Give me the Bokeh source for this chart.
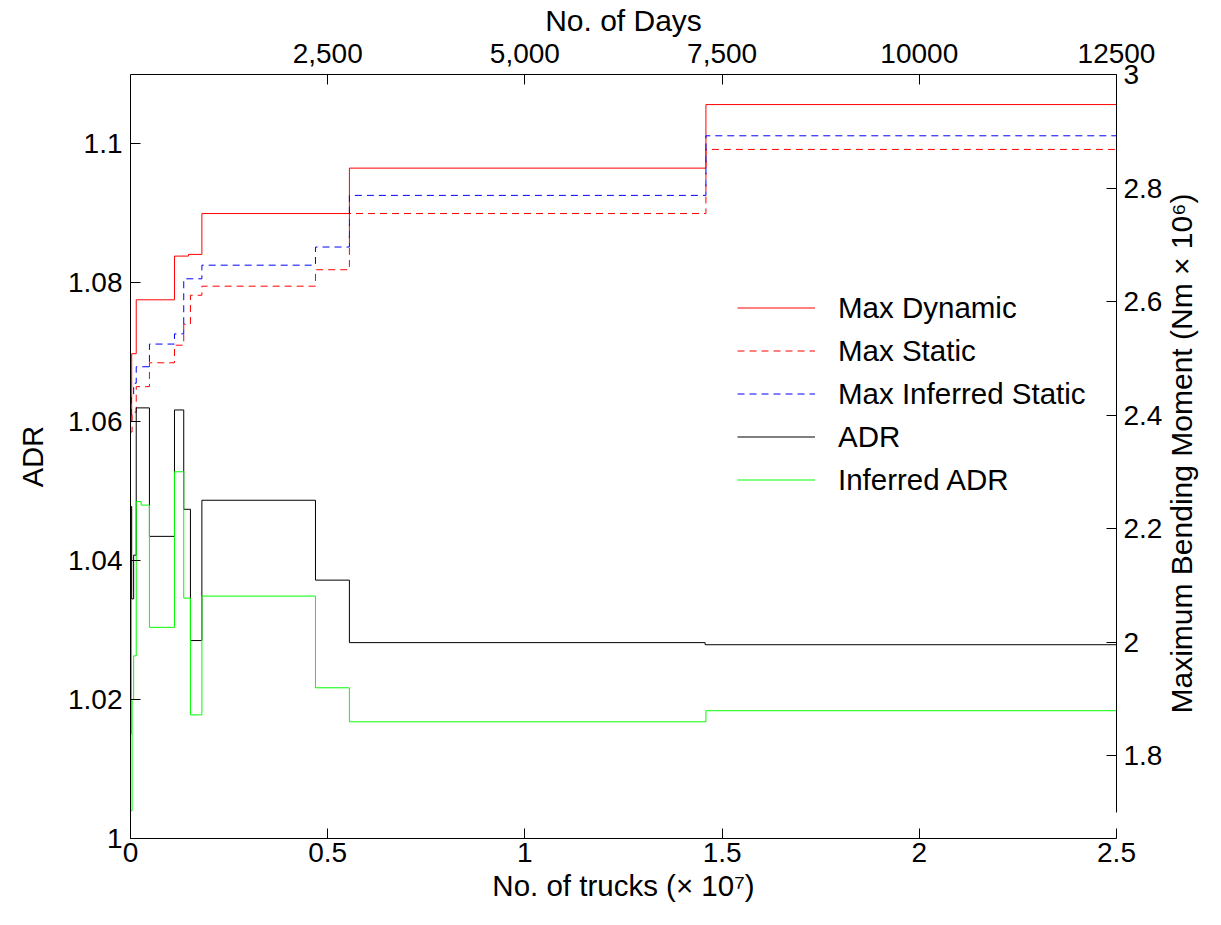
import math
from bokeh.plotting import figure
from bokeh.models import (Range1d, LinearAxis, FixedTicker, Legend, LegendItem,
                          NumeralTickFormatter)
from bokeh.embed import file_html
from bokeh.resources import INLINE

# ---------------- data ----------------
# x in units of 1e7 trucks; step values hold from x[i] to x[i+1]
dyn_x = [0, 0.003, 0.0145, 0.1115, 0.147, 0.181, 0.555, 1.459, 2.5]
dyn_v = [2.39, 2.508, 2.603, 2.680, 2.683, 2.755, 2.835, 2.947, 2.947]          # Max Dynamic

st_x = [0, 0.004, 0.0145, 0.048, 0.1115, 0.135, 0.152, 0.181, 0.469, 0.555, 1.459, 2.5]
st_v = [2.37, 2.405, 2.450, 2.492, 2.523, 2.560, 2.611, 2.627, 2.656, 2.755, 2.868, 2.868]  # Max Static

ist_x = [0, 0.002, 0.008, 0.0145, 0.048, 0.1115, 0.135, 0.181, 0.469, 0.555, 1.459, 2.5]
ist_v = [2.40, 2.432, 2.456, 2.485, 2.525, 2.543, 2.640, 2.664, 2.696, 2.787, 2.892, 2.892]  # Max Inferred Static

adr_x = [0, 0.001, 0.003, 0.008, 0.0145, 0.048, 0.1115, 0.135, 0.152, 0.181, 0.469, 0.555, 1.457, 2.5]
adr_v = [1.015, 1.0478, 1.0345, 1.0408, 1.062, 1.0435, 1.0617, 1.0474, 1.0285, 1.0487, 1.0372, 1.0282, 1.0279, 1.0279]

iadr_x = [0, 0.004, 0.008, 0.0145, 0.027, 0.048, 0.1115, 0.135, 0.152, 0.181, 0.469, 0.555, 1.459, 2.5]
iadr_v = [1.004, 1.020, 1.0263, 1.0485, 1.048, 1.0304, 1.0528, 1.0346, 1.0178, 1.0349, 1.0217, 1.0168, 1.0184, 1.0184]

bottom_ticks = [0, 0.5, 1, 1.5, 2, 2.5]
left_ticks = [1, 1.02, 1.04, 1.06, 1.08, 1.1]
right_ticks = [1.8, 2, 2.2, 2.4, 2.6, 2.8, 3]
top_ticks = [2500, 5000, 7500, 10000, 12500]
top_labels = ["2,500", "5,000", "7,500", "10000", "12500"]

FONT = "Liberation Sans"
TICK_FS = "28px"

p = figure(frame_width=986, frame_height=764,
           min_border_left=130, min_border_right=100, min_border_top=72, min_border_bottom=82,
           x_range=Range1d(0, 2.5), y_range=Range1d(1, 1.11),
           output_backend="svg", toolbar_location=None,
           background_fill_color="white", border_fill_color="white")
p.outline_line_color = None
p.grid.visible = False
p.extra_y_ranges = {"bm": Range1d(3 - 764 / 567.5, 3)}
p.extra_x_ranges = {"days": Range1d(0, 12500)}


def style_axis(ax, label_fs):
    ax.axis_line_color = "black"
    ax.axis_line_width = 1
    ax.major_tick_line_color = "black"
    ax.major_tick_in = 10
    ax.major_tick_out = 0
    ax.minor_tick_line_color = None
    ax.major_label_text_font = FONT
    ax.major_label_text_font_size = TICK_FS
    ax.major_label_text_color = "black"
    ax.axis_label_text_font = FONT
    ax.axis_label_text_font_size = label_fs
    ax.axis_label_text_font_style = "normal"
    ax.axis_label_text_color = "black"


xb = p.xaxis[0]
style_axis(xb, "29.5px")
xb.ticker = FixedTicker(ticks=bottom_ticks)
xb.formatter = NumeralTickFormatter(format="0.[00]")
xb.axis_label = "No. of trucks (× 10⁷)"
xb.major_label_standoff = 4
xb.axis_label_standoff = 4

yl = p.yaxis[0]
style_axis(yl, "29px")
yl.ticker = FixedTicker(ticks=left_ticks)
yl.formatter = NumeralTickFormatter(format="0.[00]")
yl.axis_label = "ADR"
yl.major_label_standoff = 8
yl.axis_label_standoff = 16

yr = LinearAxis(y_range_name="bm", bounds=(1.7, 3))
style_axis(yr, "30px")
yr.ticker = FixedTicker(ticks=right_ticks)
yr.formatter = NumeralTickFormatter(format="0.[00]")
yr.major_label_standoff = 7
yr.axis_label_standoff = 16
props = yr.properties()
if "axis_label_orientation" in props and "axis_label_align" in props:
    # read bottom-to-top like the reference; leading no-break spaces lift the
    # text so that it sits centred beside the axis
    yr.axis_label = "\u00a0" * 15 + "Maximum Bending Moment (Nm × 10⁶)"
    yr.axis_label_orientation = math.pi / 2
    yr.axis_label_align = "start"
else:
    yr.axis_label = "Maximum Bending Moment (Nm × 10⁶)"
p.add_layout(yr, "right")

xt = LinearAxis(x_range_name="days")
style_axis(xt, "30px")
xt.ticker = FixedTicker(ticks=top_ticks)
xt.major_label_overrides = {t: s for t, s in zip(top_ticks, top_labels)}
xt.axis_label = "No. of Days"
xt.major_label_standoff = 12
xt.axis_label_standoff = 4
p.add_layout(xt, "above")

r_dyn = p.step(dyn_x, dyn_v, mode="after", y_range_name="bm",
               line_color="#ff0000", line_width=1)
r_st = p.step(st_x, st_v, mode="after", y_range_name="bm",
              line_color="#ff0000", line_width=1, line_dash="7 5")
r_ist = p.step(ist_x, ist_v, mode="after", y_range_name="bm",
               line_color="#0000ff", line_width=1, line_dash="7 5")
r_adr = p.step(adr_x, adr_v, mode="after", line_color="black", line_width=1)
r_iadr = p.step(iadr_x, iadr_v, mode="after", line_color="#00ff00", line_width=1)

legend = Legend(items=[
    LegendItem(label="Max Dynamic", renderers=[r_dyn]),
    LegendItem(label="Max Static", renderers=[r_st]),
    LegendItem(label="Max Inferred Static", renderers=[r_ist]),
    LegendItem(label="ADR", renderers=[r_adr]),
    LegendItem(label="Inferred ADR", renderers=[r_iadr]),
], location=(607, 340))
legend.padding = 0
legend.margin = 0
legend.spacing = 6
legend.glyph_width = 78
legend.glyph_height = 37
legend.label_height = 37
legend.label_standoff = 23
legend.label_text_font = FONT
legend.label_text_font_size = "29.5px"
legend.label_text_color = "black"
legend.border_line_color = None
legend.background_fill_alpha = 0
p.add_layout(legend)

open("out.html", "w").write(file_html(p, INLINE))
